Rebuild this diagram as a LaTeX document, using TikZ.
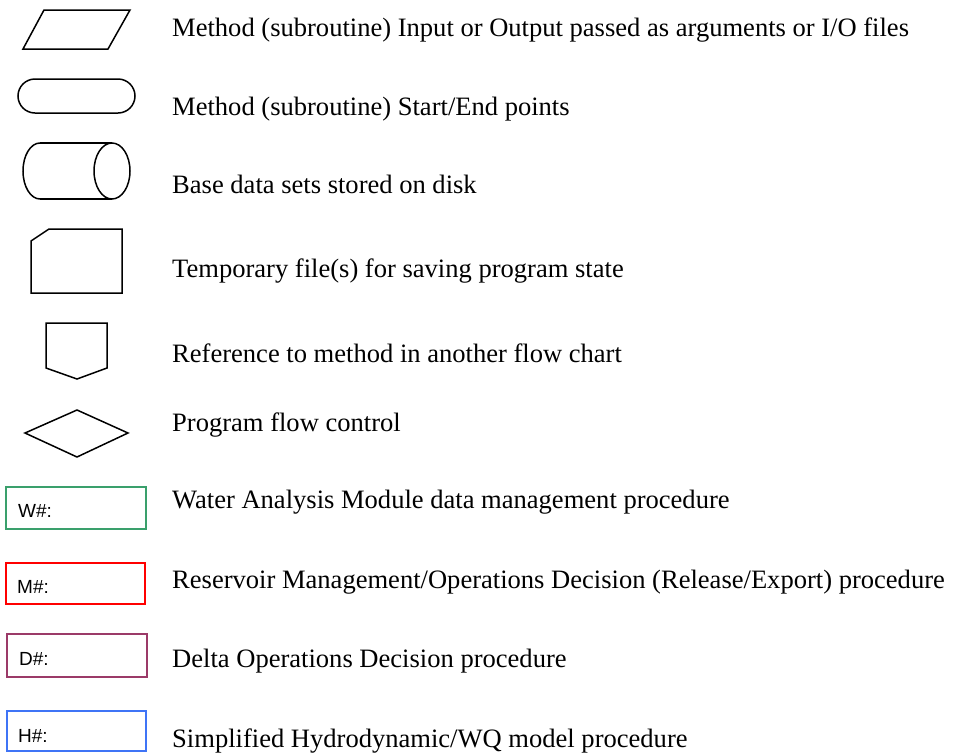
\documentclass[tikz,border=0pt]{standalone}
\usepackage{fontspec}
\setmainfont{Liberation Serif}
\newfontfamily\boxfont{Liberation Sans}
\begin{document}
\begin{tikzpicture}[x=1pt,y=-1pt,
  symbol/.style={draw=black,line width=1.5pt,line join=miter},
  procbox/.style={line width=2.6pt},
  legendtext/.style={anchor=base west,inner sep=0pt,font=\fontsize{26.55}{30}\selectfont},
  boxtext/.style={anchor=base west,inner sep=0pt,font=\boxfont\fontsize{19}{22}\selectfont}]
\definecolor{wgreen}{RGB}{58,160,108}
\definecolor{mred}{RGB}{255,0,0}
\definecolor{dplum}{RGB}{155,58,104}
\definecolor{hblue}{RGB}{63,116,246}
\useasboundingbox (0,0) rectangle (953,753);

% input / output parallelogram
\draw[symbol] (44,10) -- (130,10) -- (108,49) -- (23,49) -- cycle;
% terminal
\draw[symbol,rounded corners=17pt] (18,79) rectangle (135,113);
% stored data cylinder
\draw[symbol] (40,143) -- (112,143);
\draw[symbol] (40,199) -- (112,199);
\draw[symbol] (40,143) arc[start angle=90,end angle=270,x radius=17,y radius=-28];
\draw[symbol] (112,171) ellipse [x radius=18,y radius=28];
% temporary file (cut corner)
\draw[symbol] (49,229) -- (122,229) -- (122,293) -- (31,293) -- (31,241) -- cycle;
% off-page reference
\draw[symbol] (46,323) -- (107,323) -- (107,368) -- (77,379) -- (46,368) -- cycle;
% decision diamond
\draw[symbol] (25,433) -- (77,410) -- (128,433) -- (77,457) -- cycle;

% procedure boxes
\draw[procbox,draw=wgreen] (6,487) rectangle (146,529);
\draw[procbox,draw=mred] (6,563) rectangle (145,604);
\draw[procbox,draw=dplum] (7,634) rectangle (147,677);
\draw[procbox,draw=hblue] (7,711) rectangle (146,751);
\node[boxtext] (bw) at (18,517) {W\#:};
\node[boxtext] (bm) at (17,593) {M\#:};
\node[boxtext] (bd) at (19,665) {D\#:};
\node[boxtext] (bh) at (18,742) {H\#:};

% descriptions
\node[legendtext] (t1) at (172,36) {Method (subroutine) Input or Output passed as arguments or I/O files};
\node[legendtext] (t2) at (172,115) {Method (subroutine) Start/End points};
\node[legendtext] (t3) at (172,193) {Base data sets stored on disk};
\node[legendtext] (t4) at (172,277) {Temporary file(s) for saving program state};
\node[legendtext] (t5) at (172,362) {Reference to method in another flow chart};
\node[legendtext] (t6) at (172,431) {Program flow control};
\node[legendtext] (t7) at (172,508) {Water Analysis Module data management procedure};
\node[legendtext] (t8) at (172,588) {Reservoir Management/Operations Decision (Release/Export) procedure};
\node[legendtext] (t9) at (172,667) {Delta Operations Decision procedure};
\node[legendtext] (t10) at (172,747) {Simplified Hydrodynamic/WQ model procedure};
\end{tikzpicture}
\end{document}
